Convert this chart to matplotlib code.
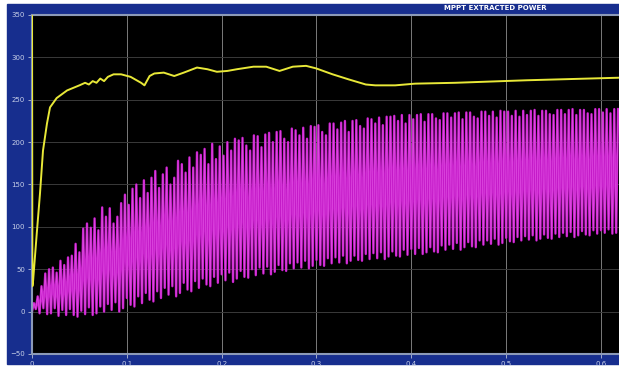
import numpy as np
import matplotlib
matplotlib.use("Agg")
import matplotlib.pyplot as plt
from matplotlib.patches import Rectangle

# extracted power (yellow trace): time [s], power [W]
pv_time = [0.0, 0.0004, 0.0012, 0.005, 0.0084, 0.0116, 0.0158, 0.019, 0.026, 0.037,
           0.050, 0.056, 0.060, 0.064, 0.068, 0.072, 0.076, 0.080, 0.086,
           0.094, 0.104, 0.115, 0.1186, 0.124, 0.129, 0.139, 0.150, 0.160, 0.174,
           0.185, 0.195, 0.206, 0.216, 0.2335, 0.247, 0.261, 0.275, 0.289, 0.2996,
           0.317, 0.334, 0.352, 0.362, 0.383, 0.404, 0.446, 0.522, 0.619]
pv_power = [350, 30, 37, 92, 139, 190, 222, 241, 252, 261,
            267, 270, 268, 272, 270, 275, 272, 277, 280,
            280, 277, 270, 267, 278, 281, 282, 278, 282, 288,
            286, 283, 284, 286, 289, 289, 284, 289, 290, 287,
            280, 274, 268, 267, 267, 269, 270, 273, 276]

# ripple trace (magenta): one trough/peak pair per 4 ms cycle
ripple_period = 0.004
ripple_high = [10, 18, 30, 45, 50,
               52, 46, 60, 55, 64,
               66, 80, 70, 98, 104,
               99, 110, 96, 123, 112,
               122, 104, 112, 128, 138,
               126, 145, 150, 134, 155,
               140, 158, 166, 146, 162,
               170, 150, 158, 178, 174,
               164, 182, 170, 188, 185,
               192, 174, 198, 180, 195,
               184, 200, 190, 204, 202,
               205, 196, 190, 208, 207,
               194, 209, 211, 200, 212,
               213, 204, 200, 216, 214,
               208, 217, 204, 219, 218,
               220, 212, 208, 222, 222,
               215, 223, 225, 212, 225,
               226, 219, 216, 228, 227,
               222, 229, 220, 230, 230,
               231, 225, 232, 222, 232,
               227, 232, 233, 224, 233,
               233, 228, 226, 234, 234,
               229, 234, 235, 227, 235,
               235, 230, 228, 236, 236,
               231, 236, 229, 237, 236,
               236, 231, 237, 230, 237,
               232, 237, 238, 231, 237,
               237, 233, 232, 238, 238,
               233, 238, 239, 232, 238,
               238, 234, 233, 239, 239,
               235, 239, 234, 239, 239]
ripple_low = [0, 3, -2, 4, -3,
              -2, 4, -5, 2, -4,
              3, -4, -6, 1, -3,
              5, -4, -2, 6, 0,
              9, 2, 11, 0, 4,
              16, 8, 6, 18, 10,
              22, 14, 12, 24, 16,
              28, 20, 30, 18, 22,
              34, 26, 24, 36, 28,
              39, 32, 30, 41, 34,
              44, 37, 46, 35, 39,
              48, 41, 40, 50, 43,
              52, 45, 53, 44, 47,
              55, 49, 48, 57, 51,
              58, 52, 60, 51, 54,
              61, 55, 54, 63, 57,
              64, 58, 66, 57, 60,
              66, 61, 60, 68, 62,
              69, 63, 70, 62, 65,
              71, 66, 65, 73, 67,
              74, 68, 75, 68, 70,
              76, 71, 70, 78, 73,
              79, 74, 81, 73, 76,
              82, 77, 76, 84, 79,
              84, 80, 86, 79, 81,
              87, 83, 82, 88, 84,
              89, 85, 90, 84, 86,
              91, 87, 86, 92, 88,
              93, 89, 94, 88, 90,
              95, 91, 90, 96, 92,
              96, 93, 97, 92, 93]

x_ticks = [0, 0.1, 0.2, 0.3, 0.4, 0.5, 0.6]
x_labels = ["0", "0.1", "0.2", "0.3", "0.4", "0.5", "0.6"]
y_ticks = [-50, 0, 50, 100, 150, 200, 250, 300, 350]

W, H = 619, 368
fig = plt.figure(figsize=(W / 100, H / 100), dpi=100, facecolor="white")

# scope-style blue panel behind the axes
panel_blue = "#172e8e"
fig.patches.append(Rectangle((7 / W, 4 / H), 1 - 7 / W, (364 - 4) / H,
                             transform=fig.transFigure, color=panel_blue, zorder=-10))

ax = fig.add_axes([32 / W, (H - 354) / H, (W - 32) / W, (354 - 15) / H])
ax.set_zorder(1)
ax.set_facecolor("black")

# build the zigzag ripple from the trough/peak lists
rt, rv = [], []
for k, (lo, hi) in enumerate(zip(ripple_low, ripple_high)):
    t0 = k * ripple_period
    rt += [t0, t0 + ripple_period / 2]
    rv += [lo, hi]
ax.plot(rt, rv, color="#c41ac8", lw=1.7, zorder=2)
ax.plot(rt, rv, color="#ee66f0", lw=0.6, alpha=0.6, zorder=2)

ax.plot(pv_time, pv_power, color="#e8e838", lw=1.4, zorder=3)

ax.set_xlim(0, 0.619)
ax.set_ylim(-50, 350)
ax.set_xticks(x_ticks)
ax.set_xticklabels(x_labels)
ax.set_yticks(y_ticks)

ax.grid(False)
for x in x_ticks[1:]:
    ax.axvline(x, color="#9a9a9a", lw=0.7, alpha=0.8, zorder=1)
for y in y_ticks[1:-1]:
    ax.axhline(y, color="#3a3a3a", lw=0.7, zorder=1)

for side in ["left", "bottom", "top"]:
    ax.spines[side].set_color("#8c9ab8")
    ax.spines[side].set_linewidth(1.5)
ax.spines["right"].set_visible(False)

ax.tick_params(colors="#b8c0d8", labelsize=5, length=3, width=0.6, pad=2)
for lbl in ax.get_xticklabels() + ax.get_yticklabels():
    lbl.set_color("#c8d0e8")

fig.text(495 / W, 1 - 8 / H, "MPPT EXTRACTED POWER", color="white", fontsize=5,
         fontweight="bold", ha="center", va="center")

fig.savefig("out.png", dpi=100, facecolor="white")
